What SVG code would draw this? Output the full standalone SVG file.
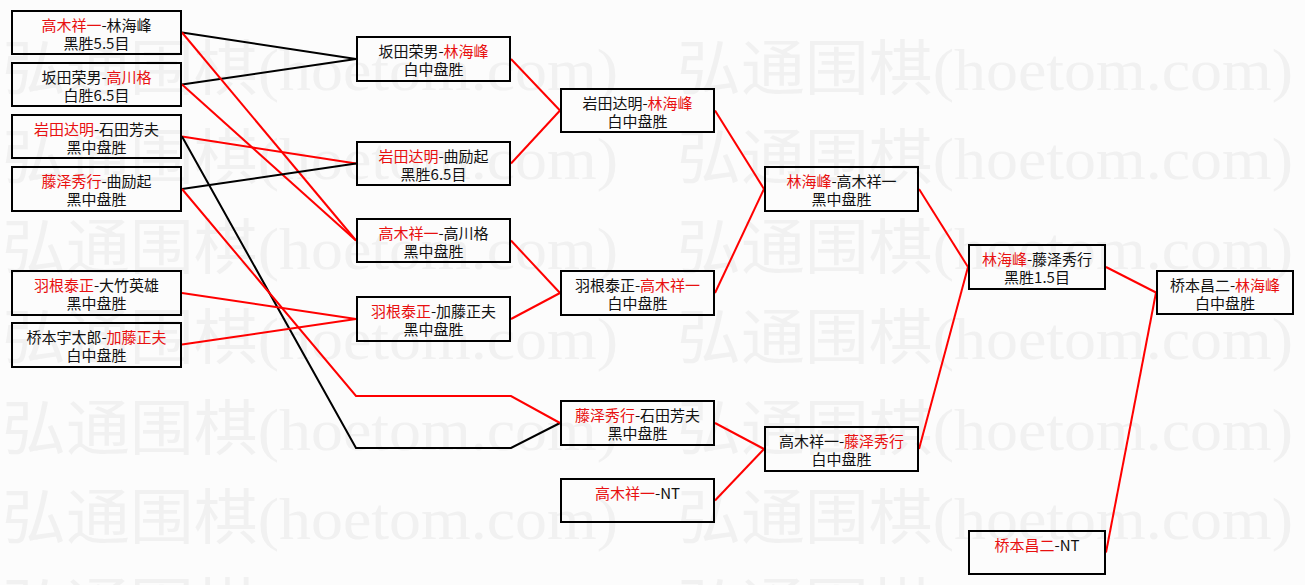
<svg xmlns="http://www.w3.org/2000/svg" width="1305" height="585" viewBox="0 0 1305 585">
<style>
.bg{fill:#fcfcfc}
.wm{fill:#f1f1f1;font-family:"Liberation Serif","Noto Sans CJK SC",serif;font-size:60px}
.box{fill:none;stroke:#000;stroke-width:2}
.t{font-family:"Noto Sans CJK SC","Noto Sans CJK JP",sans-serif;font-size:15px;fill:#111;text-anchor:middle}
.r{fill:#e81010}
.lr{fill:none;stroke:#f00;stroke-width:2}
.lb{fill:none;stroke:#000;stroke-width:2}
</style>
<rect class="bg" x="0" y="0" width="1305" height="585"/>
<g id="watermark">
<text class="wm" x="2" y="90" textLength="616" lengthAdjust="spacingAndGlyphs">弘通围棋(hoetom.com)</text>
<text class="wm" x="677" y="90" textLength="616" lengthAdjust="spacingAndGlyphs">弘通围棋(hoetom.com)</text>
<text class="wm" x="2" y="179" textLength="616" lengthAdjust="spacingAndGlyphs">弘通围棋(hoetom.com)</text>
<text class="wm" x="677" y="179" textLength="616" lengthAdjust="spacingAndGlyphs">弘通围棋(hoetom.com)</text>
<text class="wm" x="2" y="269" textLength="616" lengthAdjust="spacingAndGlyphs">弘通围棋(hoetom.com)</text>
<text class="wm" x="677" y="269" textLength="616" lengthAdjust="spacingAndGlyphs">弘通围棋(hoetom.com)</text>
<text class="wm" x="2" y="359" textLength="616" lengthAdjust="spacingAndGlyphs">弘通围棋(hoetom.com)</text>
<text class="wm" x="677" y="359" textLength="616" lengthAdjust="spacingAndGlyphs">弘通围棋(hoetom.com)</text>
<text class="wm" x="2" y="450" textLength="616" lengthAdjust="spacingAndGlyphs">弘通围棋(hoetom.com)</text>
<text class="wm" x="677" y="450" textLength="616" lengthAdjust="spacingAndGlyphs">弘通围棋(hoetom.com)</text>
<text class="wm" x="2" y="539" textLength="616" lengthAdjust="spacingAndGlyphs">弘通围棋(hoetom.com)</text>
<text class="wm" x="677" y="539" textLength="616" lengthAdjust="spacingAndGlyphs">弘通围棋(hoetom.com)</text>
<text class="wm" x="2" y="628" textLength="616" lengthAdjust="spacingAndGlyphs">弘通围棋(hoetom.com)</text>
<text class="wm" x="677" y="628" textLength="616" lengthAdjust="spacingAndGlyphs">弘通围棋(hoetom.com)</text>
</g>
<g id="connectors">
<line class="lb" x1="182" y1="32.5" x2="356" y2="59"/>
<line class="lb" x1="182" y1="84.5" x2="356" y2="59"/>
<line class="lr" x1="182" y1="32.5" x2="356" y2="240.5"/>
<line class="lr" x1="182" y1="84.5" x2="356" y2="240.5"/>
<line class="lr" x1="182" y1="136.5" x2="356" y2="163.5"/>
<line class="lb" x1="182" y1="189" x2="356" y2="163.5"/>
<polyline class="lb" points="182,136.5 356,448 511,448 560,423"/>
<polyline class="lr" points="182,189 356,396 511,396 560,423"/>
<line class="lr" x1="182" y1="293" x2="356" y2="319"/>
<line class="lr" x1="182" y1="344.5" x2="356" y2="319"/>
<line class="lr" x1="511" y1="59" x2="560" y2="110.5"/>
<line class="lr" x1="511" y1="163.5" x2="560" y2="110.5"/>
<line class="lr" x1="511" y1="240.5" x2="560" y2="293"/>
<line class="lr" x1="511" y1="319" x2="560" y2="293"/>
<line class="lr" x1="715" y1="110.5" x2="764" y2="189"/>
<line class="lr" x1="715" y1="293" x2="764" y2="189"/>
<line class="lr" x1="715" y1="423" x2="764" y2="449"/>
<line class="lr" x1="715" y1="500.5" x2="764" y2="449"/>
<line class="lr" x1="919" y1="189" x2="968" y2="267"/>
<line class="lr" x1="919" y1="449" x2="968" y2="267"/>
<line class="lr" x1="1106" y1="267" x2="1156" y2="292.5"/>
<line class="lr" x1="1106" y1="552.5" x2="1156" y2="292.5"/>
</g>
<g id="n-l1"><rect class="box" x="12" y="11" width="169" height="43"/>
<text class="t" x="96.5" y="31"><tspan class="r">高木祥一</tspan>-林海峰</text>
<text class="t" x="96.5" y="49">黑胜5.5目</text></g>
<g id="n-l2"><rect class="box" x="12" y="63" width="169" height="43"/>
<text class="t" x="96.5" y="83">坂田荣男-<tspan class="r">高川格</tspan></text>
<text class="t" x="96.5" y="101">白胜6.5目</text></g>
<g id="n-l3"><rect class="box" x="12" y="115" width="169" height="43"/>
<text class="t" x="96.5" y="135"><tspan class="r">岩田达明</tspan>-石田芳夫</text>
<text class="t" x="96.5" y="153">黑中盘胜</text></g>
<g id="n-l4"><rect class="box" x="12" y="167" width="169" height="44"/>
<text class="t" x="96.5" y="187"><tspan class="r">藤泽秀行</tspan>-曲励起</text>
<text class="t" x="96.5" y="205">黑中盘胜</text></g>
<g id="n-l5"><rect class="box" x="12" y="271" width="169" height="44"/>
<text class="t" x="96.5" y="291"><tspan class="r">羽根泰正</tspan>-大竹英雄</text>
<text class="t" x="96.5" y="309">黑中盘胜</text></g>
<g id="n-l6"><rect class="box" x="12" y="323" width="169" height="44"/>
<text class="t" x="96.5" y="343">桥本宇太郎-<tspan class="r">加藤正夫</tspan></text>
<text class="t" x="96.5" y="361">白中盘胜</text></g>
<g id="n-c2a"><rect class="box" x="357" y="37" width="153" height="44"/>
<text class="t" x="433.5" y="57">坂田荣男-<tspan class="r">林海峰</tspan></text>
<text class="t" x="433.5" y="75">白中盘胜</text></g>
<g id="n-c2b"><rect class="box" x="357" y="142" width="153" height="43"/>
<text class="t" x="433.5" y="162"><tspan class="r">岩田达明</tspan>-曲励起</text>
<text class="t" x="433.5" y="180">黑胜6.5目</text></g>
<g id="n-c2c"><rect class="box" x="357" y="219" width="153" height="43"/>
<text class="t" x="433.5" y="239"><tspan class="r">高木祥一</tspan>-高川格</text>
<text class="t" x="433.5" y="257">黑中盘胜</text></g>
<g id="n-c2d"><rect class="box" x="357" y="297" width="153" height="44"/>
<text class="t" x="433.5" y="317"><tspan class="r">羽根泰正</tspan>-加藤正夫</text>
<text class="t" x="433.5" y="335">黑中盘胜</text></g>
<g id="n-c3a"><rect class="box" x="561" y="89" width="153" height="43"/>
<text class="t" x="637.5" y="109">岩田达明-<tspan class="r">林海峰</tspan></text>
<text class="t" x="637.5" y="127">白中盘胜</text></g>
<g id="n-c3b"><rect class="box" x="561" y="271" width="153" height="44"/>
<text class="t" x="637.5" y="291">羽根泰正-<tspan class="r">高木祥一</tspan></text>
<text class="t" x="637.5" y="309">白中盘胜</text></g>
<g id="n-c3c"><rect class="box" x="561" y="401" width="153" height="44"/>
<text class="t" x="637.5" y="421"><tspan class="r">藤泽秀行</tspan>-石田芳夫</text>
<text class="t" x="637.5" y="439">黑中盘胜</text></g>
<g id="n-c3d"><rect class="box" x="561" y="479" width="153" height="43"/>
<text class="t" x="637.5" y="499"><tspan class="r">高木祥一</tspan>-NT</text></g>
<g id="n-c4a"><rect class="box" x="765" y="167" width="153" height="44"/>
<text class="t" x="841.5" y="187"><tspan class="r">林海峰</tspan>-高木祥一</text>
<text class="t" x="841.5" y="205">黑中盘胜</text></g>
<g id="n-c4b"><rect class="box" x="765" y="427" width="153" height="44"/>
<text class="t" x="841.5" y="447">高木祥一-<tspan class="r">藤泽秀行</tspan></text>
<text class="t" x="841.5" y="465">白中盘胜</text></g>
<g id="n-c5a"><rect class="box" x="969" y="245" width="136" height="44"/>
<text class="t" x="1037" y="265"><tspan class="r">林海峰</tspan>-藤泽秀行</text>
<text class="t" x="1037" y="283">黑胜1.5目</text></g>
<g id="n-c5b"><rect class="box" x="969" y="531" width="136" height="43"/>
<text class="t" x="1037" y="551"><tspan class="r">桥本昌二</tspan>-NT</text></g>
<g id="n-final"><rect class="box" x="1157" y="271" width="136" height="43"/>
<text class="t" x="1225" y="291">桥本昌二-<tspan class="r">林海峰</tspan></text>
<text class="t" x="1225" y="309">白中盘胜</text></g>
</svg>
